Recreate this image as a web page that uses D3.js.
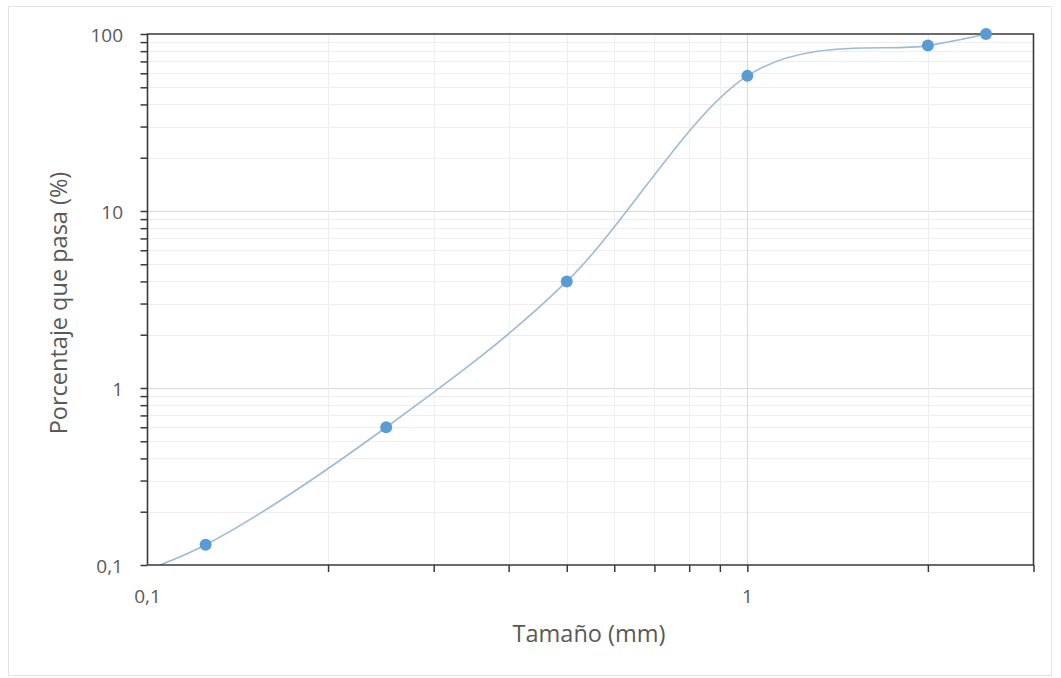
<!DOCTYPE html>
<html>
	<head>
		<meta charset="utf-8">
		<script src="https://cdnjs.cloudflare.com/ajax/libs/d3/7.8.5/d3.min.js"></script>
		<title>Curva granulometrica</title>
	</head>

	<style>
		body {
			margin: 0;
			background-color: #fff;
		}

		text {
			font-family: 'Open Sans', 'Noto Sans', sans-serif;
			fill: #595959;
		}

		.grid-minor {
			stroke: #eeeeee;
			stroke-width: 1px;
		}

		.grid-major {
			stroke: #d9d9d9;
			stroke-width: 1px;
		}

		.frame {
			stroke: #3a3a3a;
			stroke-width: 1.6px;
			fill: none;
		}
	</style>

	<body>
		<svg></svg>
	</body>

	<script type="text/javascript">
		// sieve sizes (mm) and percent passing
		var tamano = [ 0.075, 0.125, 0.25, 0.5, 1, 2, 2.5 ];
		var pasa = [ 0.07, 0.13, 0.6, 4, 58, 86, 100 ];

		var x_domain = [ 0.1, 3 ];
		var y_domain = [ 0.1, 100 ];
		var x_labels = [ { v: 0.1, t: '0,1' }, { v: 1, t: '1' } ];
		var y_labels = [ { v: 0.1, t: '0,1' }, { v: 1, t: '1' }, { v: 10, t: '10' }, { v: 100, t: '100' } ];

		var x_title = 'Tamaño (mm)';
		var y_title = 'Porcentaje que pasa (%)';

		var width = 1061;
		var height = 678;
		var plot = { l: 147.5, r: 1033.5, t: 34, b: 565 };

		var svg = d3.select( 'svg' )
			.attr( 'width', width )
			.attr( 'height', height );

		// faint outer chart border
		svg.append( 'rect' )
			.attr( 'x', 8.5 ).attr( 'y', 6.5 )
			.attr( 'width', 1043 ).attr( 'height', 669 )
			.attr( 'fill', 'none' )
			.attr( 'stroke', '#e4e4e4' );

		var x = d3.scaleLog().domain( x_domain ).range( [ plot.l, plot.r ] );
		var y = d3.scaleLog().domain( y_domain ).range( [ plot.b, plot.t ] );

		// every 1..9 multiple inside the domains
		function log_steps( dom ) {
			var out = [];
			for( var p = Math.floor( Math.log10( dom[0] ) ); p <= Math.ceil( Math.log10( dom[1] ) ); p++ ) {
				for( var m = 1; m < 10; m++ ) {
					var v = +( m * Math.pow( 10, p ) ).toPrecision( 6 );
					if( v >= dom[0] - 1e-9 && v <= dom[1] + 1e-9 ) out.push( v );
				}
			}
			return out;
		}
		function is_major( v ) {
			return Math.abs( Math.log10( v ) - Math.round( Math.log10( v ) ) ) < 1e-6;
		}

		var xs = log_steps( x_domain );
		var ys = log_steps( y_domain );

		var grid = svg.append( 'g' );
		grid.selectAll( 'line.h' )
			.data( ys.filter( function( v ) { return v > y_domain[0] && v < y_domain[1]; } ) )
			.enter().append( 'line' )
				.attr( 'class', function( d ) { return is_major( d ) ? 'grid-major' : 'grid-minor'; } )
				.attr( 'x1', plot.l ).attr( 'x2', plot.r )
				.attr( 'y1', function( d ) { return Math.round( y( d ) ) + 0.5; } )
				.attr( 'y2', function( d ) { return Math.round( y( d ) ) + 0.5; } );
		grid.selectAll( 'line.v' )
			.data( xs.filter( function( v ) { return v > x_domain[0] && v < x_domain[1]; } ) )
			.enter().append( 'line' )
				.attr( 'class', function( d ) { return is_major( d ) ? 'grid-major' : 'grid-minor'; } )
				.attr( 'y1', plot.t ).attr( 'y2', plot.b )
				.attr( 'x1', function( d ) { return Math.round( x( d ) ) + 0.5; } )
				.attr( 'x2', function( d ) { return Math.round( x( d ) ) + 0.5; } );

		svg.append( 'clipPath' ).attr( 'id', 'plot' )
			.append( 'rect' )
				.attr( 'x', plot.l ).attr( 'y', plot.t )
				.attr( 'width', plot.r - plot.l ).attr( 'height', plot.b - plot.t );
		svg.append( 'clipPath' ).attr( 'id', 'marks' )
			.append( 'rect' )
				.attr( 'x', plot.l - 8 ).attr( 'y', plot.t - 8 )
				.attr( 'width', plot.r - plot.l + 16 ).attr( 'height', plot.b - plot.t + 16 );

		var pts = tamano.map( function( t, i ) { return [ t, pasa[i] ]; } );

		var line = d3.line()
			.x( function( d ) { return x( d[0] ); } )
			.y( function( d ) { return y( d[1] ); } )
			.curve( d3.curveCardinal.tension( 0 ) );

		svg.append( 'path' )
			.datum( pts )
			.attr( 'clip-path', 'url(#plot)' )
			.attr( 'd', line )
			.attr( 'fill', 'none' )
			.attr( 'stroke', '#9dbad6' )
			.attr( 'stroke-width', 1.6 );

		// frame: top and right border, then the two axes
		svg.append( 'path' )
			.attr( 'class', 'frame' )
			.attr( 'd', 'M' + plot.l + ',' + plot.b + 'V' + plot.t + 'H' + plot.r + 'V' + plot.b + 'H' + plot.l );

		var x_axis = d3.axisBottom( x )
			.tickValues( xs.filter( function( v ) { return v > x_domain[0]; } ) )
			.tickSize( 7 ).tickFormat( '' );
		svg.append( 'g' )
			.attr( 'transform', 'translate(0,' + plot.b + ')' )
			.call( x_axis )
			.call( function( g ) {
				g.select( '.domain' ).remove();
				g.selectAll( 'line' ).attr( 'stroke', '#3a3a3a' ).attr( 'stroke-width', 1.5 );
			} );

		var y_axis = d3.axisLeft( y )
			.tickValues( ys )
			.tickSize( 7 ).tickFormat( '' );
		svg.append( 'g' )
			.attr( 'transform', 'translate(' + plot.l + ',0)' )
			.call( y_axis )
			.call( function( g ) {
				g.select( '.domain' ).remove();
				g.selectAll( 'line' ).attr( 'stroke', '#3a3a3a' ).attr( 'stroke-width', 1.5 );
			} );

		svg.selectAll( 'text.xl' )
			.data( x_labels )
			.enter().append( 'text' )
				.attr( 'x', function( d ) { return x( d.v ); } )
				.attr( 'y', 603 )
				.attr( 'text-anchor', 'middle' )
				.style( 'font-size', '19px' )
				.text( function( d ) { return d.t; } );

		svg.selectAll( 'text.yl' )
			.data( y_labels )
			.enter().append( 'text' )
				.attr( 'x', 123 )
				.attr( 'y', function( d ) { return y( d.v ) + 8; } )
				.attr( 'text-anchor', 'end' )
				.style( 'font-size', '19px' )
				.text( function( d ) { return d.t; } );

		svg.append( 'text' )
			.attr( 'x', 589 )
			.attr( 'y', 642 )
			.attr( 'text-anchor', 'middle' )
			.style( 'font-size', '23.5px' )
			.text( x_title );

		svg.append( 'text' )
			.attr( 'transform', 'translate(67,303) rotate(-90)' )
			.attr( 'text-anchor', 'middle' )
			.style( 'font-size', '23.5px' )
			.text( y_title );

		svg.append( 'g' )
			.attr( 'clip-path', 'url(#marks)' )
			.selectAll( 'circle' )
			.data( pts )
			.enter().append( 'circle' )
				.attr( 'cx', function( d ) { return x( d[0] ); } )
				.attr( 'cy', function( d ) { return y( d[1] ); } )
				.attr( 'r', 6 )
				.attr( 'fill', '#5b9bd5' );
	</script>
</html>
